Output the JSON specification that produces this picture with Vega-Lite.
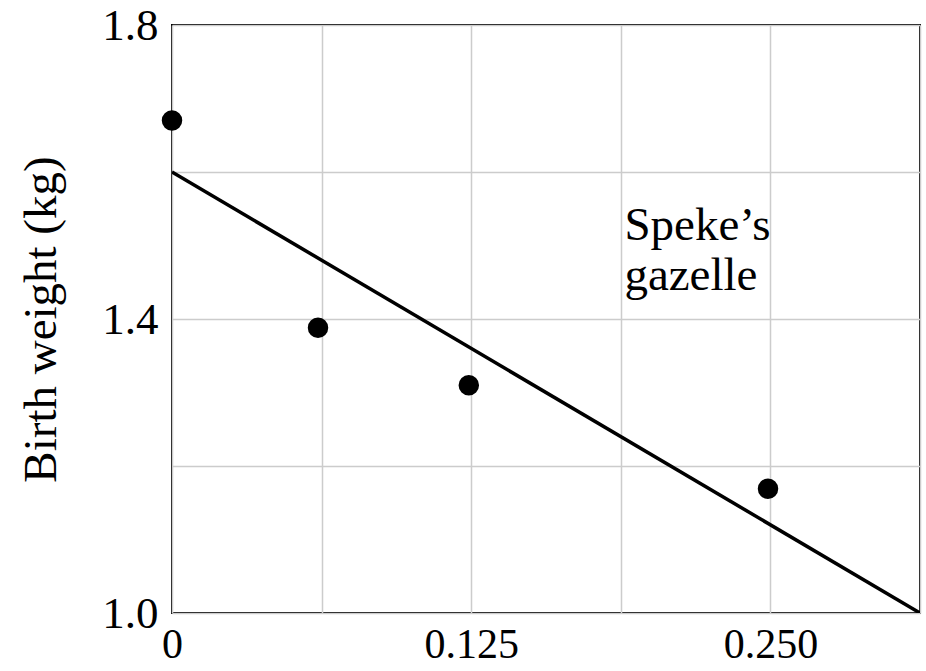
{
  "$schema": "https://vega.github.io/schema/vega-lite/v6.json",
  "width": 748,
  "height": 588,
  "autosize": {"type": "none"},
  "padding": {"left": 172, "top": 25, "right": 6, "bottom": 58},
  "background": "white",
  "config": {
    "view": {"stroke": "black", "strokeWidth": 2},
    "font": "Liberation Serif",
    "axis": {
      "domain": false,
      "ticks": false,
      "grid": true,
      "gridColor": "#cccccc",
      "gridWidth": 1.5,
      "labelFont": "Liberation Serif",
      "labelFontSize": 45,
      "labelColor": "black",
      "titleFont": "Liberation Serif",
      "titleFontSize": 47,
      "titleFontWeight": "normal",
      "titleColor": "black"
    }
  },
  "datasets": {
    "points": [
      {"x": 0, "y": 1.67},
      {"x": 0.061, "y": 1.388},
      {"x": 0.124, "y": 1.31},
      {"x": 0.249, "y": 1.169}
    ],
    "fit": [
      {"x": 0, "y": 1.6},
      {"x": 0.3125, "y": 1.0}
    ],
    "labels": [
      {"x": 0.189, "y": 1.5075, "text": "Speke’s"},
      {"x": 0.189, "y": 1.44, "text": "gazelle"}
    ]
  },
  "layer": [
    {
      "data": {"name": "fit"},
      "mark": {"type": "line", "color": "black", "strokeWidth": 3.5, "clip": true},
      "encoding": {
        "x": {
          "field": "x",
          "type": "quantitative",
          "scale": {"domain": [0, 0.3125], "nice": false},
          "axis": {
            "title": null,
            "values": [0, 0.0625, 0.125, 0.1875, 0.25, 0.3125],
            "labelExpr": "datum.value == 0 ? '0' : datum.value == 0.125 ? '0.125' : datum.value == 0.25 ? '0.250' : ''",
            "labelFontSize": 42,
            "labelPadding": 11,
            "labelFlush": false
          }
        },
        "y": {
          "field": "y",
          "type": "quantitative",
          "scale": {"domain": [1.0, 1.8], "nice": false, "zero": false},
          "axis": {
            "title": "Birth weight (kg)",
            "values": [1.0, 1.2, 1.4, 1.6, 1.8],
            "labelExpr": "(datum.value == 1.0 || datum.value == 1.4 || datum.value == 1.8) ? format(datum.value, '.1f') : ''",
            "labelPadding": 14,
            "titlePadding": 36,
            "labelFlush": false
          }
        }
      }
    },
    {
      "data": {"name": "points"},
      "mark": {"type": "circle", "color": "black", "opacity": 1, "size": 420},
      "encoding": {
        "x": {"field": "x", "type": "quantitative"},
        "y": {"field": "y", "type": "quantitative"}
      }
    },
    {
      "data": {"name": "labels"},
      "mark": {"type": "text", "align": "left", "baseline": "alphabetic", "fontSize": 47, "font": "Liberation Serif", "color": "black"},
      "encoding": {
        "x": {"field": "x", "type": "quantitative"},
        "y": {"field": "y", "type": "quantitative"},
        "text": {"field": "text"}
      }
    }
  ]
}
